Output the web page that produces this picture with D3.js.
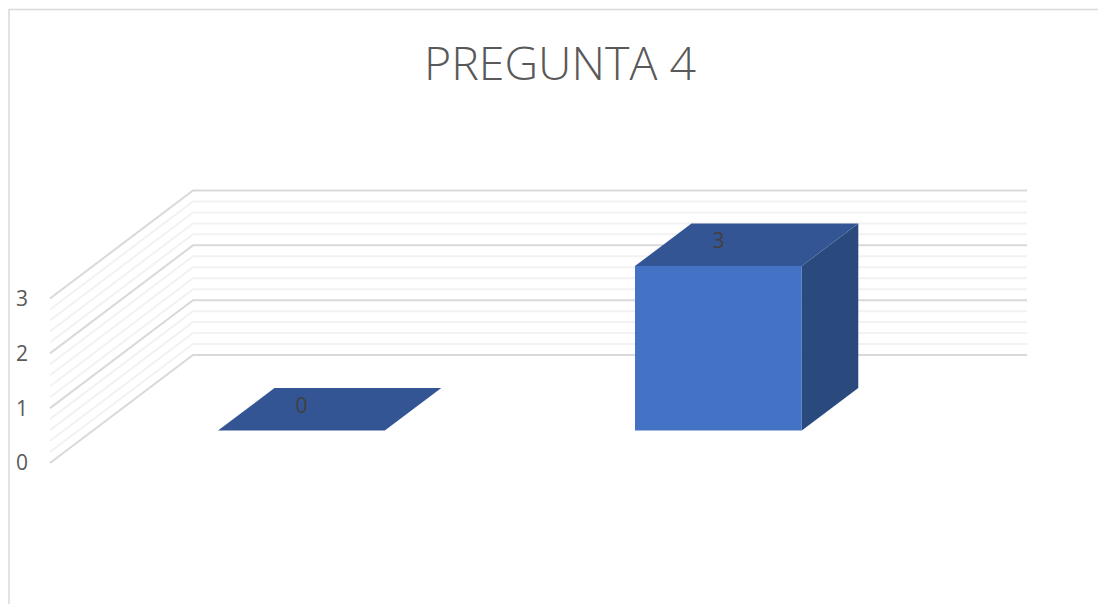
<!DOCTYPE html>
<html>
<head>
  <meta charset='utf-8'>
  <script src='https://d3js.org/d3.v7.min.js'></script>
  <style>
    body { margin: 0; background: #fff; }
    svg { display: block; }
    text { font-family: 'Open Sans', sans-serif; }
  </style>
</head>
<body>
  <script>

const title = 'PREGUNTA 4';
const categories = ['Serie 1', 'Serie 2'];
const values = [0, 3];
const tickLabels = [0, 1, 2, 3];

const width = 1098,
  height = 604,
  svg = d3.select('body').append('svg').attr('width', width).attr('height', height);

// chart frame, cut off by the right and bottom of the picture
svg.append('path')
  .attr('d', `M9,${height} V9.5 H${width}`)
  .attr('fill', 'none')
  .attr('stroke', '#d9d9d9')
  .attr('stroke-width', 1.5);

svg.append('text')
  .attr('x', 560)
  .attr('y', 80)
  .attr('text-anchor', 'middle')
  .attr('font-size', 46.5)
  .attr('font-weight', 300)
  .attr('fill', '#595959')
  .text(title);

// back wall scales
const x = d3.scaleBand()
  .domain(categories)
  .range([193, 1027])
  .paddingInner(.6)
  .paddingOuter(.3);

const y = d3.scaleLinear()
  .domain([0, 3])
  .range([355, 190.5]);

// depth: 0 is the back wall, 1 the front edge of the floor
const depthX = d3.scaleLinear().domain([0, 1]).range([0, -143]);
const depthY = d3.scaleLinear().domain([0, 1]).range([0, 108]);

const barBack = .305,
  barFront = .7;

const pt = (px, v, t) => [px + depthX(t), y(v) + depthY(t)];
const poly = pts => pts.map(p => p.join(',')).join(' ');

// gridlines, minor ones first so the major ones sit on top
const grid = y.ticks(15).map(v => ({v: v, major: Math.abs(v - Math.round(v)) < 1e-6}));

svg.append('g')
  .selectAll('polyline')
  .data(grid.slice().sort((a, b) => a.major - b.major))
  .enter().append('polyline')
  .attr('points', d => poly([pt(x.range()[0], d.v, 1), pt(x.range()[0], d.v, 0), pt(x.range()[1], d.v, 0)]))
  .attr('fill', 'none')
  .attr('stroke', d => d.major ? '#d9d9d9' : '#f2f2f2')
  .attr('stroke-width', 2);

// bars
const bars = svg.append('g')
  .selectAll('g')
  .data(categories.map((c, i) => ({c: c, v: values[i]})))
  .enter().append('g');

bars.append('polygon')
  .attr('points', d => {
    const l = x(d.c), r = l + x.bandwidth();
    return poly([pt(r, 0, barFront), pt(r, 0, barBack), pt(r, d.v, barBack), pt(r, d.v, barFront)]);
  })
  .attr('fill', '#2a4a7e');

bars.append('polygon')
  .attr('points', d => {
    const l = x(d.c), r = l + x.bandwidth();
    return poly([pt(l, d.v, barFront), pt(l, d.v, barBack), pt(r, d.v, barBack), pt(r, d.v, barFront)]);
  })
  .attr('fill', '#335593');

bars.append('polygon')
  .attr('points', d => {
    const l = x(d.c), r = l + x.bandwidth();
    return poly([pt(l, 0, barFront), pt(r, 0, barFront), pt(r, d.v, barFront), pt(l, d.v, barFront)]);
  })
  .attr('fill', '#4472c4');

bars.append('text')
  .attr('x', d => pt(x(d.c) + x.bandwidth() / 2, d.v, barFront)[0])
  .attr('y', d => y(d.v) + depthY((barBack + barFront) / 2) - 4)
  .attr('dy', '0.35em')
  .attr('text-anchor', 'middle')
  .attr('font-size', 21)
  .attr('fill', '#404040')
  .text(d => d.v);

// value axis, spaced along the front edge of the wall
svg.append('g')
  .selectAll('text')
  .data(tickLabels)
  .enter().append('text')
  .attr('x', 22)
  .attr('y', d => pt(x.range()[0], d, 1)[1])
  .attr('dy', '0.35em')
  .attr('text-anchor', 'middle')
  .attr('font-size', 21)
  .attr('fill', '#595959')
  .text(d => d);

  </script>
</body>
</html>
